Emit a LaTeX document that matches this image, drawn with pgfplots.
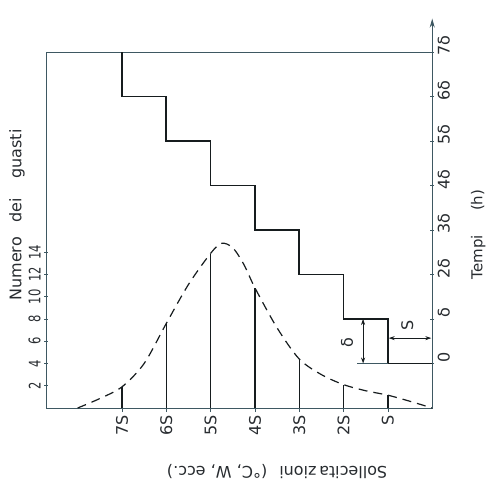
\documentclass[border=0pt]{standalone}
\usepackage{fontspec}
\setmainfont{DejaVu Sans}
\newfontfamily\narrowfont{DejaVu Sans}[FakeStretch=0.72]
\usepackage{pgfplots}
\pgfplotsset{compat=1.18}
\usetikzlibrary{arrows.meta}
\definecolor{ink}{RGB}{22,28,30}
\definecolor{frame}{RGB}{62,88,98}
\definecolor{lab}{RGB}{40,44,48}

\begin{document}
\begin{tikzpicture}
\pgfplotsset{
  base/.style={
    scale only axis, width=386pt, height=356pt,
    xmin=0, xmax=8.71, x dir=reverse, clip=false,
    tick label style={font=\fontsize{16}{18}\selectfont, text=lab},
    major tick length=4pt,
  },
}
% stress / number of failures
\begin{axis}[base, ymin=0, ymax=32,
  axis line style={frame, line width=0.8pt},
  every tick/.style={frame, line width=0.8pt},
  xtick={1,...,7}, xticklabels={S,2S,3S,4S,5S,6S,7S},
  xtick pos=bottom, xtick align=outside,
  xticklabel style={rotate=90, anchor=east},
  ytick={2,4,...,14}, yticklabels={2,4,6,8,10,12,14},
  ytick pos=left, ytick align=center,
  yticklabel style={rotate=90, anchor=south, font=\narrowfont\fontsize{16}{18}\selectfont},
]
\addplot[ink, line width=1.3pt, ycomb, no marks] coordinates {
  (1,1.15) (2,2.1) (3,4.4) (4,10.8) (5,13.8) (6,7.6) (7,1.9)
};
\addplot[ink, line width=1.2pt, smooth, dash pattern=on 9pt off 6pt] coordinates {
  (8.0,0) (7.5,0.85) (7,1.9) (6.5,4.0) (6,7.6) (5.5,11.1) (5,13.9)
  (4.75,14.8) (4.5,14.4) (4.25,12.9) (4,10.8) (3.5,7.2) (3,4.4)
  (2.5,3.0) (2,2.1) (1.5,1.55) (1,1.15) (0.5,0.6) (0,0)
};
\node[rotate=90, text=lab, font=\fontsize{16}{18}\selectfont]
  at (axis cs:9.37,17.35) {Numero\hspace{14pt}dei\hspace{20pt}guasti};
\node[rotate=180, text=lab, font=\fontsize{16}{18}\selectfont]
  at (axis cs:3.50,-5.75) {Sollecita\,zioni\hspace{12pt}(°C,\ W,\ ecc.)};
\node[rotate=90, text=lab, font=\fontsize{15}{18}\selectfont]
  at (axis cs:-1.04,15.6) {Tempi\hspace{24pt}(h)};
\coordinate (bbsw) at (axis cs:9.752,-7.19);
\coordinate (bbne) at (axis cs:-1.219,36.67);
\end{axis}
% stress / time
\begin{axis}[base, ymin=-1, ymax=7,
  hide x axis, axis y line*=right,
  y axis line style={frame, line width=0.8pt},
  every tick/.style={frame, line width=0.8pt},
  ytick={0,...,7}, yticklabels={0,δ,2δ,3δ,4δ,5δ,6δ,7δ},
  ytick align=center,
  yticklabel style={rotate=90, anchor=north, xshift=6pt},
]
\addplot[ink, line width=1.6pt] coordinates {
  (0,0) (1,0) (1,1) (2,1) (2,2) (3,2) (3,3) (4,3) (4,4)
  (5,4) (5,5) (6,5) (6,6) (7,6) (7,7)
};
\addplot[frame, line width=0.8pt, -{Stealth[length=9pt,width=5pt]}] coordinates {(0,6.9) (0,7.75)};
\addplot[frame, line width=0.5pt] coordinates {(1,0) (1.7,0)};
\addplot[ink, line width=0.7pt, {Stealth[length=6pt,width=4pt]}-{Stealth[length=6pt,width=4pt]}]
  coordinates {(1.56,0) (1.56,1)};
\addplot[ink, line width=0.7pt, {Stealth[length=6pt,width=4pt]}-{Stealth[length=6pt,width=4pt]}]
  coordinates {(0.02,0.57) (0.98,0.57)};
\node[rotate=90, text=lab, font=\fontsize{16}{18}\selectfont] at (axis cs:1.92,0.46) {δ};
\node[rotate=90, text=lab, font=\fontsize{16}{18}\selectfont] at (axis cs:0.56,0.86) {S};
\end{axis}
\pgfresetboundingbox
\useasboundingbox (bbsw) rectangle (bbne);
\end{tikzpicture}
\end{document}
